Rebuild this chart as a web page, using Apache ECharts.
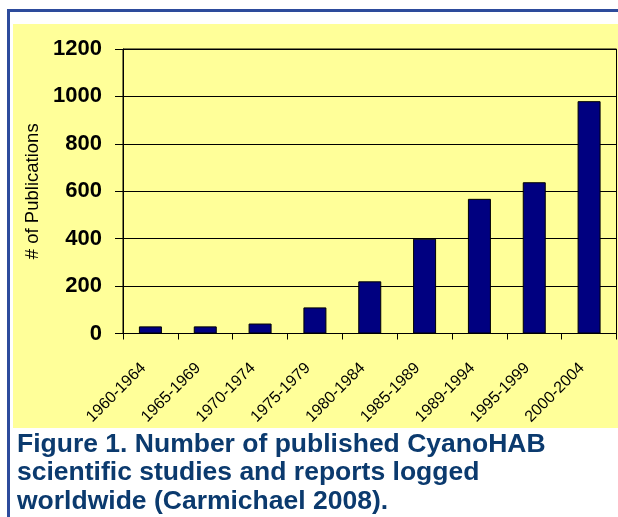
<!DOCTYPE html>
<html>
<head>
<meta charset="utf-8">
<script src="https://cdn.jsdelivr.net/npm/echarts@6/dist/echarts.min.js"></script>
<style>
html,body{margin:0;padding:0;background:#fff;}
#chart{width:618px;height:517px;}
</style>
</head>
<body>
<div id="chart"></div>
<script>
var categories = ['1960-1964','1965-1969','1970-1974','1975-1979','1980-1984','1985-1989','1989-1994','1995-1999','2000-2004'];
var publications = [30, 30, 42, 110, 220, 400, 568, 638, 980];
var yTicks = [0, 200, 400, 600, 800, 1000, 1200];
var captionLines = [
  'Figure 1. Number of published CyanoHAB',
  'scientific studies and reports logged',
  'worldwide (Carmichael 2008).'
];

var chart = echarts.init(document.getElementById('chart'), null, {renderer:'canvas'});
var FONT = '"Liberation Sans", Arial, sans-serif';
var captionColor = '#0b3a6e';

var graphics = [
  {type:'rect', z:-10, silent:true, shape:{x:13, y:24, width:605, height:404}, style:{fill:'#ffff99'}},
  {type:'rect', z:-5, silent:true, shape:{x:7, y:9, width:611, height:3}, style:{fill:'#2d4b9c'}},
  {type:'rect', z:-5, silent:true, shape:{x:7, y:9, width:3, height:508}, style:{fill:'#2d4b9c'}}
];
captionLines.forEach(function(t, i){
  graphics.push({type:'text', silent:true, x:17, y:431 + i*28.5,
    style:{text:t, fill:captionColor, font:'bold 26.5px ' + FONT, textVerticalAlign:'top', verticalAlign:'top'}});
});

chart.setOption({
  animation:false,
  backgroundColor:'transparent',
  graphic: graphics,
  grid:{left:123, right:1.5, top:49, bottom:183.5, show:true, borderColor:'#000', borderWidth:1, backgroundColor:'transparent'},
  xAxis:{
    type:'category', data:categories,
    axisLine:{lineStyle:{color:'#000', width:1}},
    axisTick:{show:true, length:6, lineStyle:{color:'#000'}},
    axisLabel:{rotate:45, margin:25, color:'#000', fontFamily:FONT, fontSize:16, interval:0, padding:[0,10,0,0]}
  },
  yAxis:{
    type:'value', min:yTicks[0], max:yTicks[yTicks.length-1], interval:yTicks[1]-yTicks[0],
    name:'# of Publications', nameLocation:'middle', nameRotate:90, nameGap:80,
    nameTextStyle:{color:'#000', fontFamily:FONT, fontSize:18.5},
    axisLine:{show:true, lineStyle:{color:'#000', width:1}},
    axisTick:{show:true, length:8, lineStyle:{color:'#000'}},
    axisLabel:{margin:21, color:'#000', fontFamily:FONT, fontSize:22, fontWeight:'bold',
      formatter:function(v){ return String(v); }},
    splitLine:{show:true, lineStyle:{color:'#000', width:1}}
  },
  series:[{
    type:'bar', data:publications, barWidth:23,
    itemStyle:{color:'#000080', borderColor:'#000', borderWidth:1}
  }]
});
</script>
</body>
</html>
